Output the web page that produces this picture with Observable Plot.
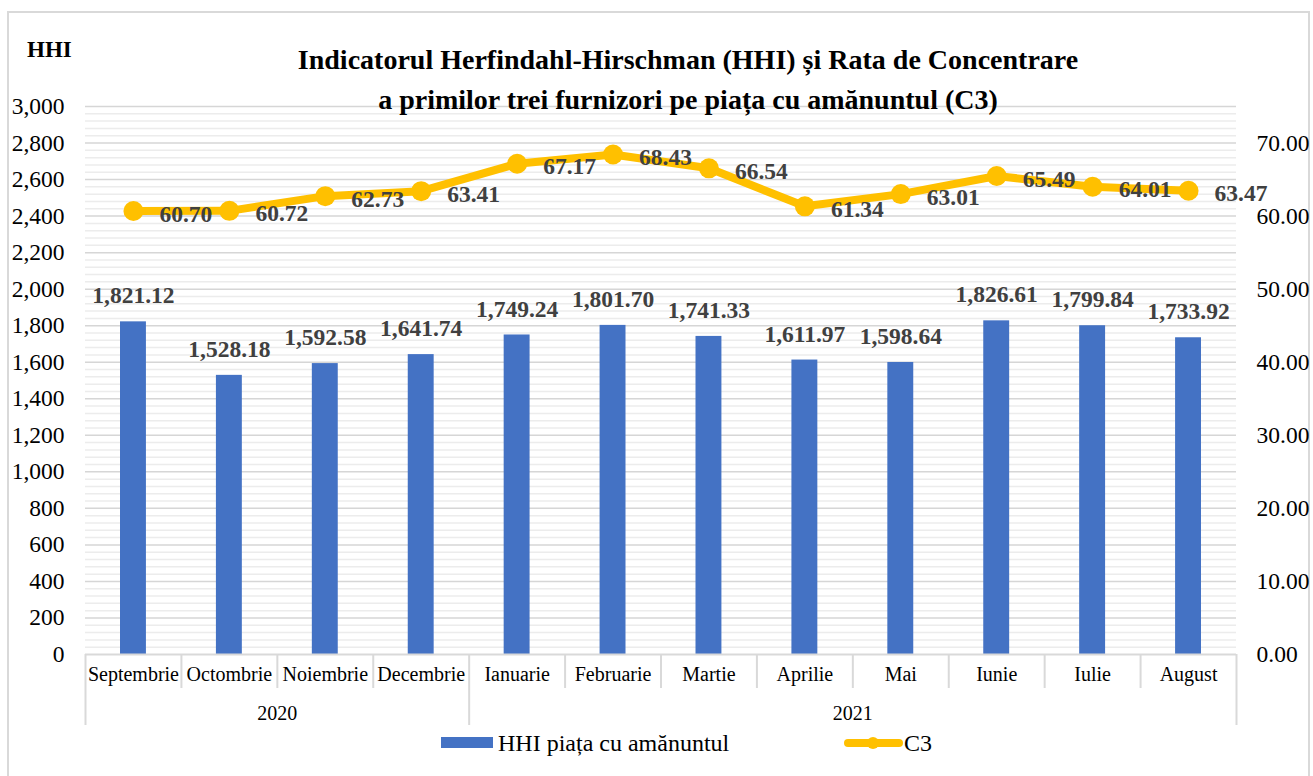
<!DOCTYPE html>
<html>
<head>
<meta charset="utf-8">
<script src="https://cdn.jsdelivr.net/npm/d3@7"></script>
<script src="https://cdn.jsdelivr.net/npm/@observablehq/plot@0.6"></script>
<style>
  html, body { margin: 0; padding: 0; background: #fff; }
  #wrap { position: relative; width: 1313px; height: 776px; overflow: hidden; font-family: "Liberation Serif", "Times New Roman", serif; }
  #border { position: absolute; left: 7px; top: 11px; width: 1303px; height: 800px; border: 2px solid #d9d9d9; box-sizing: border-box; }
  #title { position: absolute; left: 688px; top: 40px; transform: translateX(-50%); white-space: nowrap; text-align: center; font-weight: bold; font-size: 28px; line-height: 40px; color: #000; }
  #hhi { position: absolute; left: 27px; top: 36px; font-weight: bold; font-size: 23px; line-height: 28px; color: #000; }
  #legend { position: absolute; left: 0; top: 0; }
  #chart { position: absolute; left: 0; top: 0; }
  #wrap svg text { font-family: "Liberation Serif", "Times New Roman", serif; }
</style>
</head>
<body>
<div id="wrap">
  <div id="border"></div>
  <div id="chart"></div>
  <div id="hhi">HHI</div>
  <div id="title">Indicatorul Herfindahl-Hirschman (HHI) și Rata de Concentrare<br>a primilor trei furnizori pe piața cu amănuntul (C3)</div>
  <svg id="legend" width="1313" height="776" style="pointer-events:none">
    <rect x="441" y="737" width="52" height="11" fill="#4472C4"></rect>
    <text x="498" y="751" font-size="24" fill="#000">HHI piața cu amănuntul</text>
    <line x1="848" y1="743" x2="899" y2="743" stroke="#FFC000" stroke-width="8" stroke-linecap="round"></line>
    <circle cx="873" cy="743" r="6" fill="#FFC000"></circle>
    <text x="904" y="751" font-size="24" fill="#000">C3</text>
  </svg>
</div>
<script>
const months = ["Septembrie","Octombrie","Noiembrie","Decembrie","Ianuarie","Februarie","Martie","Aprilie","Mai","Iunie","Iulie","August"];
const years = ["2020","2020","2020","2020","2021","2021","2021","2021","2021","2021","2021","2021"];
const hhiValues = [1821.12,1528.18,1592.58,1641.74,1749.24,1801.70,1741.33,1611.97,1598.64,1826.61,1799.84,1733.92];
const c3Values = [60.70,60.72,62.73,63.41,67.17,68.43,66.54,61.34,63.01,65.49,64.01,63.47];
const leftTicks = d3.range(0, 3001, 200);
const rightTicks = [0,10,20,30,40,50,60,70];
const rightMax = 75; // right axis top
const leftMax = 3000;

const W = 1313, H = 776;
const mL = 85, mR = 77, mT = 106, mB = 122;
const ratio = leftMax / rightMax;
const bw = (W - mL - mR) / months.length;
const unitsPerPx = leftMax / (H - mT - mB);

const data = months.map((m, i) => ({month: m, year: years[i], hhi: hhiValues[i], c3: c3Values[i]}));

const shortSep = months.filter((m, i) => i > 0 && years[i] === years[i-1]);
const longSep = months.filter((m, i) => i === 0 || years[i] !== years[i-1]);
const yearGroups = d3.groups(data, d => d.year).map(([y, arr]) => ({year: y, mid: arr[Math.floor(arr.length/2)].month, even: arr.length % 2 === 0}));

const minor = d3.range(0, leftMax + 1, 40).filter(v => v % 200 !== 0);
const major = leftTicks.filter(v => v > 0);

const fmtH = d3.format(",.2f");
const fmtC = d3.format(".2f");
const font = '"Liberation Serif", "Times New Roman", serif';

const chart = Plot.plot({
  width: W, height: H,
  marginLeft: mL, marginRight: mR, marginTop: mT, marginBottom: mB,
  style: {fontFamily: font, fontSize: "23px", color: "#000", background: "transparent", overflow: "visible"},
  x: {type: "band", domain: months, padding: 0, round: false},
  y: {domain: [0, leftMax]},
  marks: [
    Plot.ruleY(minor, {stroke: "#ececec", strokeWidth: 1.5}),
    Plot.ruleY(major, {stroke: "#d6d6d6", strokeWidth: 1.5}),
    Plot.barY(data, {x: "month", y: "hhi", fill: "#4472C4", insetLeft: 35, insetRight: 35}),
    Plot.ruleY([0], {stroke: "#d9d9d9", strokeWidth: 2}),
    Plot.ruleX(shortSep, {x: d => d, y1: 0, y2: -34 * unitsPerPx, dx: -bw/2, stroke: "#d9d9d9", strokeWidth: 2}),
    Plot.ruleX(longSep, {x: d => d, y1: 0, y2: -71 * unitsPerPx, dx: -bw/2, stroke: "#d9d9d9", strokeWidth: 2}),
    Plot.ruleX([months[months.length-1]], {x: d => d, y1: 0, y2: -71 * unitsPerPx, dx: bw/2, stroke: "#d9d9d9", strokeWidth: 2}),
    Plot.text(yearGroups.filter(g => g.even), {x: "mid", y: () => 0, text: "year", dx: -bw/2, dy: 59, fontSize: 20, fill: "#000", fontFamily: font}),
    Plot.text(yearGroups.filter(g => !g.even), {x: "mid", y: () => 0, text: "year", dy: 59, fontSize: 20, fill: "#000", fontFamily: font}),
    Plot.axisX({tickSize: 0, tickPadding: 12, fontSize: 20, label: null, fontFamily: font}),
    Plot.axisY({anchor: "left", ticks: leftTicks, tickFormat: d3.format(","), tickSize: 0, tickPadding: 21, label: null, fontSize: 23.5, fontFamily: font}),
    Plot.axisY({anchor: "right", ticks: rightTicks.map(v => v * ratio), tickFormat: d => fmtC(d / ratio), tickSize: 0, tickPadding: 20, label: null, fontSize: 23.5, fontFamily: font}),
    Plot.text(data, {x: "month", y: "hhi", text: d => fmtH(d.hhi), dy: -26, fontWeight: "bold", fill: "#404040", fontSize: 23.5, fontFamily: font}),
    Plot.line(data, {x: "month", y: d => d.c3 * ratio, stroke: "#FFC000", strokeWidth: 8}),
    Plot.dot(data, {x: "month", y: d => d.c3 * ratio, r: 10, fill: "#FFC000"}),
    Plot.text(data, {x: "month", y: d => d.c3 * ratio, text: d => fmtC(d.c3), textAnchor: "start", dx: 26, dy: 3, fontWeight: "bold", fill: "#404040", fontSize: 23.5, fontFamily: font})
  ]
});
document.getElementById("chart").appendChild(chart);
</script>
</body>
</html>
